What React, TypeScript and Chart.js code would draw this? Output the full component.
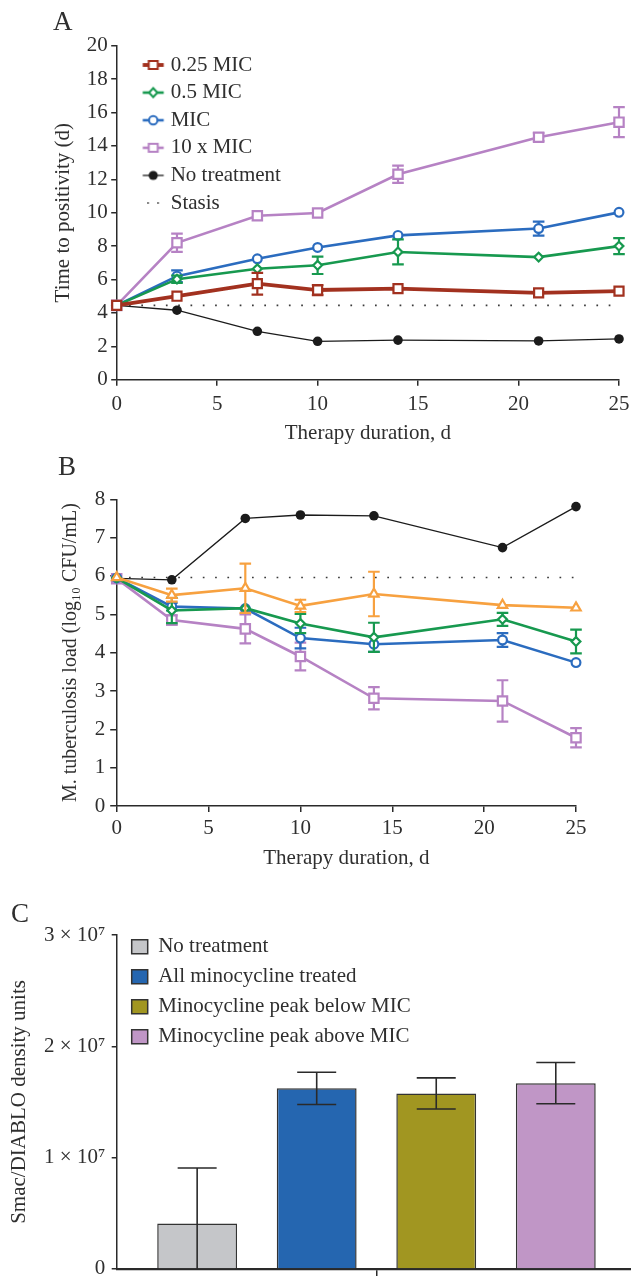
import React, { useEffect, useRef } from 'react';
import { Chart, registerables } from 'chart.js';

Chart.register(...registerables);

const FONT = '"Liberation Serif", "Times New Roman", Times, serif';
const TEXT = '#2f2f2f';
const AXIS = '#2a2a2a';

// ---------- shared time axis ----------
const days = [0, 3, 7, 10, 14, 21, 25];
const stasisDays = [0, 25];

// ---------- Panel A: time to positivity (d) ----------
const labelsA = ['0.25 MIC', '0.5 MIC', 'MIC', '10 x MIC', 'No treatment', 'Stasis'];
const ttpQuarterMIC = [4.45, 5.0, 5.75, 5.37, 5.45, 5.2, 5.3];
const ttpQuarterMICErr = [0, 0, 0.65, 0.3, 0, 0, 0];
const ttpHalfMIC = [4.45, 6.02, 6.64, 6.85, 7.65, 7.34, 8.0];
const ttpHalfMICErr = [0, 0.22, 0, 0.52, 0.75, 0, 0.48];
const ttpMIC = [4.45, 6.2, 7.24, 7.92, 8.64, 9.05, 10.02];
const ttpMICErr = [0, 0.35, 0, 0, 0, 0.42, 0];
const ttpTenMIC = [4.45, 8.2, 9.82, 9.98, 12.3, 14.52, 15.42];
const ttpTenMICErr = [0, 0.55, 0, 0, 0.52, 0.24, 0.9];
const ttpNoTreatment = [4.45, 4.16, 2.9, 2.3, 2.37, 2.32, 2.44];
const ttpStasis = [4.45, 4.45];

// ---------- Panel B: M. tuberculosis load ----------
const labelsB = ['0.25 MIC', '0.5 MIC', 'MIC', '10 x MIC', 'No treatment', 'Stasis'];
const cfuQuarterMIC = [5.96, 5.5, 5.68, 5.22, 5.53, 5.24, 5.17];
const cfuQuarterMICErr = [0, 0.17, 0.64, 0.16, 0.58, 0, 0];
const cfuHalfMIC = [5.95, 5.1, 5.16, 4.76, 4.4, 4.87, 4.29];
const cfuHalfMICErr = [0, 0.33, 0, 0.25, 0.38, 0.17, 0.31];
const cfuMIC = [5.95, 5.2, 5.15, 4.38, 4.22, 4.33, 3.74];
const cfuMICErr = [0, 0.1, 0, 0.27, 0.2, 0.18, 0];
const cfuTenMIC = [5.93, 4.85, 4.62, 3.9, 2.81, 2.74, 1.78];
const cfuTenMICErr = [0, 0.12, 0.38, 0.36, 0.29, 0.54, 0.25];
const cfuNoTreatment = [5.94, 5.9, 7.5, 7.59, 7.57, 6.74, 7.81];
const cfuStasis = [5.96, 5.96];

// ---------- Panel C: Smac/DIABLO ----------
const smacCategories = [
  'No treatment',
  'All minocycline treated',
  'Minocycline peak below MIC',
  'Minocycline peak above MIC',
];
const smacValues = [4.07e6, 1.622e7, 1.576e7, 1.669e7];
const smacErrors = [5.0e6, 1.45e6, 1.4e6, 1.85e6];
const smacTickExponent = 7;

// ---------- colours ----------
const RED = '#a2311f';
const GREEN = '#17994f';
const BLUE = '#2b6cbf';
const PURPLE = '#b682c4';
const ORANGE = '#f7a140';
const BLACK = '#1b1b1b';
const barColors = ['#c5c6c9', '#2566b0', '#a19621', '#c096c6'];

// ---------- plugins ----------
function drawErrors(chart: any, index: number, after: boolean) {
  const ds: any = chart.data.datasets[index];
  if (!ds || !ds.errors || !!ds.errorsOnTop !== after) return;
  const meta = chart.getDatasetMeta(index);
  const xs = chart.scales[meta.xAxisID];
  const ys = chart.scales[meta.yAxisID];
  const { ctx, chartArea } = chart;
  ctx.save();
  ctx.beginPath();
  ctx.rect(chartArea.left - 30, chartArea.top - 30, chartArea.right - chartArea.left + 60, chartArea.bottom - chartArea.top + 30);
  ctx.clip();
  ctx.strokeStyle = ds.errorColor || ds.borderColor;
  ctx.lineWidth = ds.errorWidth || 2;
  const cap = ds.errorCap || 6;
  ds.data.forEach((pt: any, i: number) => {
    const e = ds.errors[i];
    if (!e) return;
    const px = xs.getPixelForValue(pt.x);
    const pTop = ys.getPixelForValue(pt.y + e);
    const pBot = ys.getPixelForValue(pt.y - e);
    ctx.beginPath();
    ctx.moveTo(px, pTop);
    ctx.lineTo(px, pBot);
    ctx.moveTo(px - cap, pTop);
    ctx.lineTo(px + cap, pTop);
    ctx.moveTo(px - cap, pBot);
    ctx.lineTo(px + cap, pBot);
    ctx.stroke();
  });
  ctx.restore();
}

const errorBarPlugin = {
  id: 'errorBars',
  beforeDatasetDraw(chart: any, args: any) {
    drawErrors(chart, args.index, false);
  },
  afterDatasetDraw(chart: any, args: any) {
    drawErrors(chart, args.index, true);
  },
};

// places the in-plot legend relative to the chart area
const legendPlacePlugin = {
  id: 'legendPlace',
  afterLayout(chart: any, _args: any, opts: any) {
    const l = chart.legend;
    if (!l || !opts || opts.dx === undefined) return;
    const a = chart.chartArea;
    const w = l.width;
    const h = l.height;
    l.left = a.left + opts.dx;
    l.top = a.top + opts.dy;
    l.right = l.left + w;
    l.bottom = l.top + h;
  },
};

// ---------- helpers ----------
function makeIcon(kind: string, color: string, lw: number): HTMLCanvasElement {
  const c = document.createElement('canvas');
  c.width = 24;
  c.height = 16;
  const g = c.getContext('2d') as CanvasRenderingContext2D;
  const cx = 12;
  const cy = 8;
  if (kind !== 'dots') {
    g.strokeStyle = color;
    g.lineWidth = lw;
    g.beginPath();
    g.moveTo(1.5, cy);
    g.lineTo(22.5, cy);
    g.stroke();
  }
  g.strokeStyle = color;
  g.fillStyle = '#ffffff';
  g.lineWidth = 2;
  g.beginPath();
  if (kind === 'square') {
    g.rect(cx - 4.5, cy - 4, 9, 8);
    g.fill();
    g.stroke();
  } else if (kind === 'diamond') {
    g.moveTo(cx, cy - 4.5);
    g.lineTo(cx + 4.2, cy);
    g.lineTo(cx, cy + 4.5);
    g.lineTo(cx - 4.2, cy);
    g.closePath();
    g.fill();
    g.stroke();
  } else if (kind === 'circle') {
    g.arc(cx, cy, 4.2, 0, Math.PI * 2);
    g.fill();
    g.stroke();
  } else if (kind === 'dot') {
    g.fillStyle = color;
    g.arc(cx, cy, 4.6, 0, Math.PI * 2);
    g.fill();
  } else if (kind === 'dots') {
    g.fillStyle = color;
    g.fillRect(6, cy - 0.8, 1.6, 1.6);
    g.fillRect(16, cy - 0.8, 1.6, 1.6);
  }
  return c;
}

function lineSet(label: string, xs: number[], ys: number[], errs: number[] | null, color: string, style: string, lineWidth: number, radius: number, filled = false) {
  return {
    label,
    data: xs.map((x, i) => ({ x, y: ys[i] })),
    errors: errs,
    errorColor: color,
    errorWidth: 2.2,
    errorCap: 5.8,
    borderColor: color,
    backgroundColor: color,
    borderWidth: lineWidth,
    pointStyle: style,
    pointRadius: radius,
    pointHoverRadius: radius,
    pointBorderColor: color,
    pointBackgroundColor: filled ? color : '#ffffff',
    pointBorderWidth: filled ? 0 : 2.2,
    tension: 0,
    clip: false,
  };
}

function stasisSet(ys: number[]) {
  return {
    label: 'Stasis',
    data: stasisDays.map((x, i) => ({ x, y: ys[i] })),
    borderColor: '#3a3a3a',
    backgroundColor: '#3a3a3a',
    borderWidth: 1.7,
    borderDash: [1.7, 10.6],
    pointRadius: 0,
    pointHoverRadius: 0,
    tension: 0,
    clip: false,
  };
}

function timeAxis(axisHeight: number, titleBottom: number, tickPad: number) {
  return {
    type: 'linear',
    min: 0,
    max: 25,
    ticks: { stepSize: 5, padding: tickPad, color: TEXT, font: { size: 21, family: FONT }, maxRotation: 0, autoSkip: false },
    grid: { drawOnChartArea: false, drawTicks: true, tickLength: 6, color: AXIS, lineWidth: 1.5 },
    border: { display: true, color: AXIS, width: 1.5 },
    title: { display: true, text: 'Therapy duration, d', color: TEXT, font: { size: 21, family: FONT }, padding: { top: 0, bottom: titleBottom } },
    afterFit: (s: any) => {
      s.height = axisHeight;
    },
  };
}

export default function App() {
  const refA = useRef<HTMLCanvasElement>(null);
  const refB = useRef<HTMLCanvasElement>(null);
  const refC = useRef<HTMLCanvasElement>(null);

  useEffect(() => {
    document.body.style.margin = '0';
    Chart.defaults.font.family = FONT;
    Chart.defaults.color = TEXT;
    const charts: Chart[] = [];

    // ---------------- Panel A ----------------
    const iconsA = [
      makeIcon('square', RED, 3.8),
      makeIcon('diamond', GREEN, 2.6),
      makeIcon('circle', BLUE, 2.6),
      makeIcon('square', PURPLE, 2.6),
      makeIcon('dot', BLACK, 1.3),
      makeIcon('dots', '#3a3a3a', 1),
    ];
    const datasetsA: any[] = [
      lineSet(labelsA[0], days, ttpQuarterMIC, ttpQuarterMICErr, RED, 'rect', 3.8, 6.4),
      lineSet(labelsA[1], days, ttpHalfMIC, ttpHalfMICErr, GREEN, 'rectRot', 2.6, 4.4),
      lineSet(labelsA[2], days, ttpMIC, ttpMICErr, BLUE, 'circle', 2.6, 4.4),
      lineSet(labelsA[3], days, ttpTenMIC, ttpTenMICErr, PURPLE, 'rect', 2.6, 6.6),
      lineSet(labelsA[4], days, ttpNoTreatment, null, BLACK, 'circle', 1.3, 4.8, true),
      stasisSet(ttpStasis),
    ];
    if (refA.current) {
      charts.push(
        new Chart(refA.current, {
          type: 'line',
          data: { datasets: datasetsA },
          options: {
            responsive: false,
            animation: false,
            devicePixelRatio: 1,
            layout: { padding: { left: 0, top: 45.7, right: 41, bottom: 0 } },
            scales: {
              x: timeAxis(75.3, 9.4, 6) as any,
              y: {
                type: 'linear',
                min: 0,
                max: 20,
                ticks: { stepSize: 2, padding: 3.5, color: TEXT, font: { size: 21, family: FONT } },
                grid: { drawOnChartArea: false, drawTicks: true, tickLength: 5.5, color: AXIS, lineWidth: 1.5 },
                border: { display: true, color: AXIS, width: 1.5 },
                title: { display: true, text: 'Time to positivity (d)', color: TEXT, font: { size: 21, family: FONT }, padding: { top: 50.4, bottom: 0 } },
                afterFit: (s: any) => {
                  s.width = 116.7;
                },
              },
            },
            plugins: {
              tooltip: { enabled: false },
              legend: {
                display: true,
                position: 'chartArea',
                align: 'start',
                labels: {
                  usePointStyle: true,
                  pointStyleWidth: 14,
                  padding: 6.6,
                  color: TEXT,
                  font: { size: 21, family: FONT },
                  generateLabels: (chart: any) =>
                    chart.data.datasets.map((ds: any, i: number) => ({
                      text: ds.label,
                      pointStyle: iconsA[i],
                      fillStyle: 'rgba(0,0,0,0)',
                      strokeStyle: 'rgba(0,0,0,0)',
                      lineWidth: 0,
                      hidden: false,
                      datasetIndex: i,
                      fontColor: TEXT,
                    })),
                },
              },
              legendPlace: { dx: 22.9, dy: 2.2 },
            } as any,
          },
          plugins: [errorBarPlugin, legendPlacePlugin],
        } as any)
      );
    }

    // ---------------- Panel B ----------------
    const datasetsB: any[] = [
      lineSet(labelsB[0], days, cfuQuarterMIC, cfuQuarterMICErr, ORANGE, 'triangle', 2.6, 5.4),
      lineSet(labelsB[1], days, cfuHalfMIC, cfuHalfMICErr, GREEN, 'rectRot', 2.6, 4.4),
      lineSet(labelsB[2], days, cfuMIC, cfuMICErr, BLUE, 'circle', 2.6, 4.4),
      lineSet(labelsB[3], days, cfuTenMIC, cfuTenMICErr, PURPLE, 'rect', 2.6, 6.6),
      lineSet(labelsB[4], days, cfuNoTreatment, null, BLACK, 'circle', 1.3, 4.8, true),
      stasisSet(cfuStasis),
    ];
    if (refB.current) {
      charts.push(
        new Chart(refB.current, {
          type: 'line',
          data: { datasets: datasetsB },
          options: {
            responsive: false,
            animation: false,
            devicePixelRatio: 1,
            layout: { padding: { left: 0, top: 44.3, right: 84, bottom: 0 } },
            scales: {
              x: timeAxis(79, 14.4, 3.5) as any,
              y: {
                type: 'linear',
                min: 0,
                max: 8,
                ticks: { stepSize: 1, padding: 5, color: TEXT, font: { size: 21, family: FONT } },
                grid: { drawOnChartArea: false, drawTicks: true, tickLength: 6.5, color: AXIS, lineWidth: 1.5 },
                border: { display: true, color: AXIS, width: 1.5 },
                title: { display: true, text: 'M. tuberculosis load (log\u2081\u2080 CFU/mL)', color: TEXT, font: { size: 20, family: FONT }, padding: { top: 58.5, bottom: 0 } },
                afterFit: (s: any) => {
                  s.width = 116.7;
                },
              },
            },
            plugins: {
              tooltip: { enabled: false },
              legend: { display: false },
            },
          },
          plugins: [errorBarPlugin],
        } as any)
      );
    }

    // ---------------- Panel C ----------------
    const datasetsC: any[] = smacCategories.map((name, i) => ({
      label: name,
      data: [{ x: i + 1, y: smacValues[i] }],
      errors: [smacErrors[i]],
      errorsOnTop: true,
      errorColor: AXIS,
      errorWidth: 1.6,
      errorCap: 19.5,
      backgroundColor: barColors[i],
      borderColor: '#333333',
      borderWidth: 1.5,
      grouped: false,
      barPercentage: 0.668,
      categoryPercentage: 1,
    }));
    if (refC.current) {
      charts.push(
        new Chart(refC.current, {
          type: 'bar',
          data: { datasets: datasetsC },
          options: {
            responsive: false,
            animation: false,
            devicePixelRatio: 1,
            layout: { padding: { left: 0, top: 50, right: 24, bottom: 0 } },
            scales: {
              x: {
                type: 'linear',
                min: 0.327,
                max: 4.671,
                offset: false,
                afterBuildTicks: (s: any) => {
                  s.ticks = [{ value: 2.5 }];
                },
                ticks: { callback: () => '', color: TEXT },
                grid: { offset: false, drawOnChartArea: false, drawTicks: true, tickLength: 7, color: AXIS, lineWidth: 1.5 },
                border: { display: true, color: AXIS, width: 2.2, dash: [2, 1.4] },
                afterFit: (s: any) => {
                  s.height = 8;
                },
              },
              y: {
                type: 'linear',
                min: 0,
                max: 3e7,
                ticks: {
                  stepSize: 1e7,
                  padding: 6.5,
                  color: TEXT,
                  font: { size: 21, family: FONT },
                  callback: (v: any) => (v === 0 ? '0' : `${Math.round(v / Math.pow(10, smacTickExponent))} \u00d7 10\u2077`),
                },
                grid: { drawOnChartArea: false, drawTicks: true, tickLength: 5, color: AXIS, lineWidth: 1.5 },
                border: { display: true, color: AXIS, width: 1.5 },
                title: { display: true, text: 'Smac/DIABLO density units', color: TEXT, font: { size: 21, family: FONT }, padding: { top: 7, bottom: 0 } },
                afterFit: (s: any) => {
                  s.width = 116.7;
                },
              },
            },
            plugins: {
              tooltip: { enabled: false },
              legend: {
                display: true,
                position: 'chartArea',
                align: 'start',
                labels: {
                  boxWidth: 16,
                  boxHeight: 14,
                  padding: 9,
                  color: TEXT,
                  font: { size: 21, family: FONT },
                },
              },
              legendPlace: { dx: 6, dy: -7.8 },
            } as any,
          },
          plugins: [errorBarPlugin, legendPlacePlugin],
        } as any)
      );
    }

    return () => {
      charts.forEach((c) => c.destroy());
    };
  }, []);

  const letter = (left: number, top: number): React.CSSProperties => ({
    position: 'absolute',
    left,
    top,
    fontFamily: FONT,
    fontSize: 27,
    lineHeight: '27px',
    color: TEXT,
  });

  return (
    <div style={{ position: 'relative', width: 631, height: 1288, overflow: 'hidden', background: '#ffffff' }}>
      <canvas ref={refA} width={660} height={455} style={{ position: 'absolute', left: 0, top: 0, width: 660, height: 455 }} />
      <canvas ref={refB} width={660} height={430} style={{ position: 'absolute', left: 0, top: 455, width: 660, height: 430 }} />
      <canvas ref={refC} width={660} height={403} style={{ position: 'absolute', left: 0, top: 885, width: 660, height: 403 }} />
      <div style={letter(53, 8.3)}>A</div>
      <div style={letter(58, 453)}>B</div>
      <div style={letter(11, 900)}>C</div>
    </div>
  );
}
